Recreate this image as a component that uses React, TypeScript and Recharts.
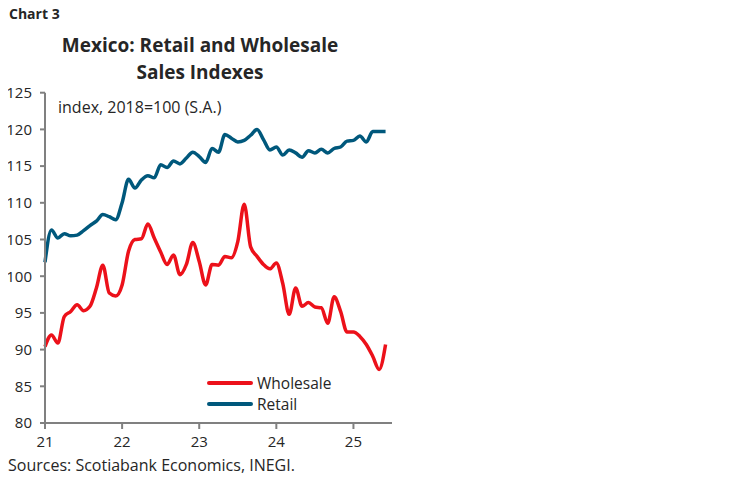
import React from "react";
import { LineChart, Line, XAxis, YAxis } from "recharts";

// monthly, Jan 2021 .. Jun 2025
const retail = [
  101.9, 106.3, 105.2, 105.8, 105.5, 105.6, 106.2, 106.9, 107.5, 108.4, 108.1, 107.7,
  110.0, 113.2, 112.0, 113.1, 113.7, 113.4, 115.2, 114.8, 115.7, 115.3, 116.1, 116.9,
  116.3, 115.5, 117.4, 116.9, 119.3, 118.8, 118.3, 118.5, 119.2, 120.0, 118.6, 117.2,
  117.6, 116.5, 117.2, 116.8, 116.2, 117.1, 116.8, 117.3, 116.8, 117.4, 117.6, 118.4,
  118.5, 119.1, 118.3, 119.7, 119.7, 119.7,
];

const wholesale = [
  90.4, 92.0, 90.9, 94.5, 95.2, 96.1, 95.3, 95.9, 98.4, 101.5, 97.7, 97.3,
  98.8, 103.4, 105.0, 105.1, 107.1, 105.2, 103.3, 101.6, 102.9, 100.2, 101.6, 104.6,
  102.0, 98.8, 101.6, 101.5, 102.7, 102.5, 104.7, 109.8, 104.0, 102.7, 101.6, 101.0,
  101.8, 99.0, 94.8, 98.4, 95.9, 96.4, 95.8, 95.7, 93.6, 97.2, 95.2, 92.4,
  92.4, 91.8, 90.7, 89.1, 87.3, 90.7,
];

const yearTicks = [0, 12, 24, 36, 48];
const yearLabels = ["21", "22", "23", "24", "25"];
const yTicks = [80, 85, 90, 95, 100, 105, 110, 115, 120, 125];

const RED = "#EC111A";
const BLUE = "#00587C";
const AXIS = "#808080";
const TEXT = "#262626";
const FONT = "'Open Sans', Lato, sans-serif";

const data = retail.map((r, i) => ({ m: i, retail: r, wholesale: wholesale[i] }));

const legendItems = [
  { label: "Wholesale", color: RED },
  { label: "Retail", color: BLUE },
];

export default function App() {
  return (
    <div
      style={{
        position: "relative",
        width: 749,
        height: 482,
        margin: -8,
        background: "#fff",
        fontFamily: FONT,
        color: TEXT,
      }}
    >
      <div style={{ position: "absolute", left: 9, top: 4, fontSize: 14, fontWeight: 700 }}>Chart 3</div>
      <div
        style={{
          position: "absolute",
          left: 0,
          width: 400,
          top: 32,
          fontSize: 19,
          fontWeight: 700,
          textAlign: "center",
          lineHeight: "27px",
        }}
      >
        Mexico: Retail and Wholesale
        <br />
        Sales Indexes
      </div>
      <div style={{ position: "absolute", left: 58, top: 96, fontSize: 16 }}>index, 2018=100 (S.A.)</div>

      <LineChart
        width={749}
        height={482}
        data={data}
        margin={{ top: 92.7, right: 357, bottom: 29, left: 0 }}
      >
        <XAxis
          dataKey="m"
          type="number"
          domain={[0, 54]}
          ticks={yearTicks}
          tickFormatter={(v: number) => yearLabels[yearTicks.indexOf(v)] ?? ""}
          height={30}
          stroke={AXIS}
          strokeWidth={2}
          tickSize={6}
          tickMargin={7}
          tick={{ fill: TEXT, fontSize: 15, fontFamily: FONT }}
        />
        <YAxis
          type="number"
          domain={[80, 125]}
          ticks={yTicks}
          width={45}
          stroke={AXIS}
          strokeWidth={2}
          tickSize={5}
          tickMargin={8}
          interval={0}
          tick={{ fill: TEXT, fontSize: 15, fontFamily: FONT }}
        />
        <Line
          type="monotone"
          dataKey="wholesale"
          stroke={RED}
          strokeWidth={3.5}
          dot={false}
          isAnimationActive={false}
        />
        <Line
          type="monotone"
          dataKey="retail"
          stroke={BLUE}
          strokeWidth={3.5}
          dot={false}
          isAnimationActive={false}
        />
      </LineChart>

      <div style={{ position: "absolute", left: 207, top: 372, fontSize: 15.5 }}>
        {legendItems.map((it) => (
          <div key={it.label} style={{ display: "flex", alignItems: "center", height: 21 }}>
            <div style={{ width: 46, height: 4, background: it.color, borderRadius: 2, marginRight: 4 }} />
            <span>{it.label}</span>
          </div>
        ))}
      </div>

      <div style={{ position: "absolute", left: 8, top: 454, fontSize: 16 }}>
        Sources: Scotiabank Economics, INEGI.
      </div>
    </div>
  );
}
